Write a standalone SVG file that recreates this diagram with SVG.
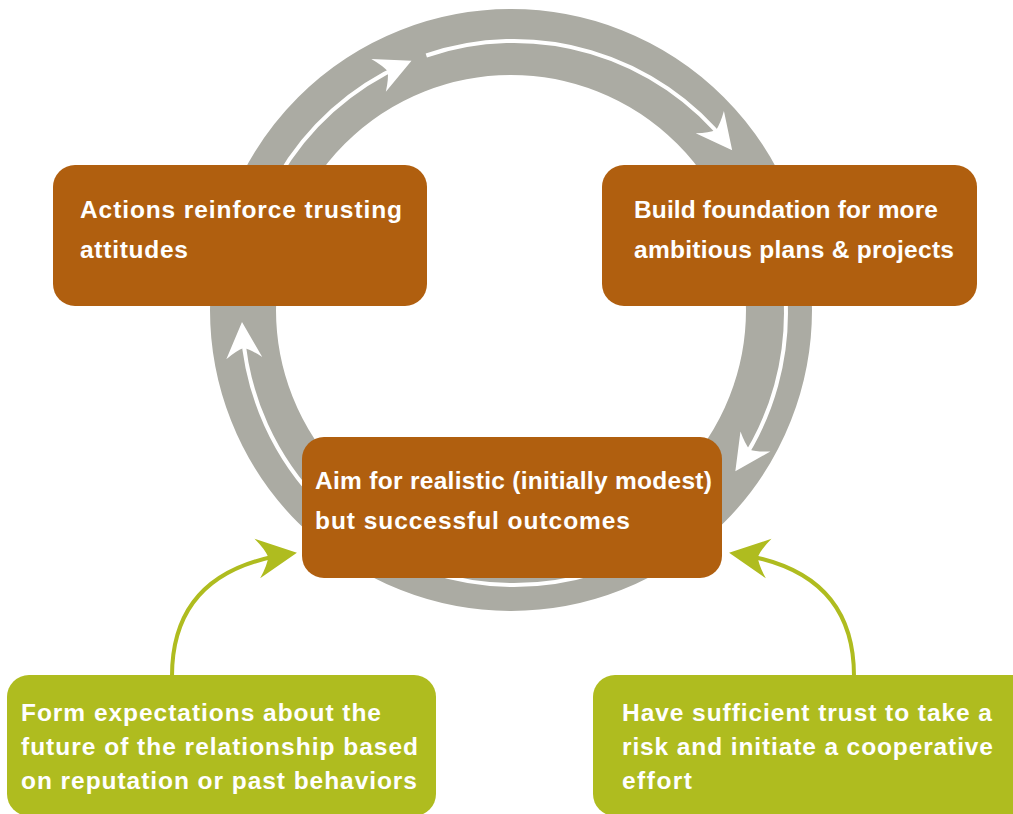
<svg xmlns="http://www.w3.org/2000/svg" width="1013" height="814" viewBox="0 0 1013 814">
<style>
  .brown { fill: #B05F0F; }
  .green { fill: #AFBC1F; }
  .txt { font-family: "Liberation Sans", Arial, sans-serif; font-weight: bold; font-size: 24.5px; fill: #FFFFFF; }
  .wline { fill: none; stroke: #FFFFFF; stroke-width: 4; }
  .gline { fill: none; stroke: #AFBC1F; stroke-width: 4; }
</style>
<defs>
  <marker id="wArrow" markerUnits="userSpaceOnUse" orient="auto" refX="0" refY="0" markerWidth="60" markerHeight="60" overflow="visible">
    <path d="M8,0 L-28,-18 Q-20,-7 -18,0 Q-20,7 -28,18 Z" fill="#FFFFFF"/>
  </marker>
  <marker id="gArrow" markerUnits="userSpaceOnUse" orient="auto" refX="0" refY="0" markerWidth="60" markerHeight="60" overflow="visible">
    <path d="M8,0 L-32,-20 Q-23,-8 -21,0 Q-23,8 -32,20 Z" fill="#AFBC1F"/>
  </marker>
</defs>
<rect width="1013" height="814" fill="#FFFFFF"/>
<g id="ring">
  <circle cx="511" cy="310" r="268" fill="none" stroke="#ABABA3" stroke-width="66"/>
</g>
<g id="connectors">
  <path class="wline" d="M278.4,177 A272,272 0 0 1 404.2,64.1" marker-end="url(#wArrow)"/>
  <path class="wline" d="M426.3,55.5 A272,272 0 0 1 727.2,144.1" marker-end="url(#wArrow)"/>
  <path class="wline" d="M785.6,298.8 A272,272 0 0 1 739.8,464.7" marker-end="url(#wArrow)"/>
  <path class="wline" d="M670,535.8 A272,272 0 0 1 358,535.8"/>
  <path class="wline" d="M321.7,505.3 A272,272 0 0 1 242.5,330.1" marker-end="url(#wArrow)"/>
  <path class="gline" d="M172,676 C172,612 205,566 289,554" marker-end="url(#gArrow)"/>
  <path class="gline" d="M854,676 C854,612 821,566 737,554" marker-end="url(#gArrow)"/>
</g>
<g id="node-actions">
  <rect class="brown" x="53" y="165" width="374" height="141" rx="22"/>
  <text class="txt" x="80" y="218" textLength="322" lengthAdjust="spacing">Actions reinforce trusting</text>
  <text class="txt" x="80" y="258" textLength="108" lengthAdjust="spacing">attitudes</text>
</g>
<g id="node-build">
  <rect class="brown" x="602" y="165" width="375" height="141" rx="22"/>
  <text class="txt" x="634" y="218" textLength="304" lengthAdjust="spacing">Build foundation for more</text>
  <text class="txt" x="634" y="258" textLength="320" lengthAdjust="spacing">ambitious plans &amp; projects</text>
</g>
<g id="node-aim">
  <rect class="brown" x="302" y="437" width="420" height="141" rx="22"/>
  <text class="txt" x="315" y="489" textLength="397" lengthAdjust="spacing">Aim for realistic (initially modest)</text>
  <text class="txt" x="315" y="529" textLength="315" lengthAdjust="spacing">but successful outcomes</text>
</g>
<g id="node-form">
  <rect class="green" x="7" y="675" width="429" height="141" rx="22"/>
  <text class="txt" x="21" y="721" textLength="360" lengthAdjust="spacing">Form expectations about the</text>
  <text class="txt" x="21" y="755" textLength="397" lengthAdjust="spacing">future of the relationship based</text>
  <text class="txt" x="21" y="789" textLength="396" lengthAdjust="spacing">on reputation or past behaviors</text>
</g>
<g id="node-have">
  <rect class="green" x="593" y="675" width="450" height="141" rx="22"/>
  <text class="txt" x="622" y="721" textLength="370" lengthAdjust="spacing">Have sufficient trust to take a</text>
  <text class="txt" x="622" y="755" textLength="371" lengthAdjust="spacing">risk and initiate a cooperative</text>
  <text class="txt" x="622" y="789" textLength="70" lengthAdjust="spacing">effort</text>
</g>
</svg>
